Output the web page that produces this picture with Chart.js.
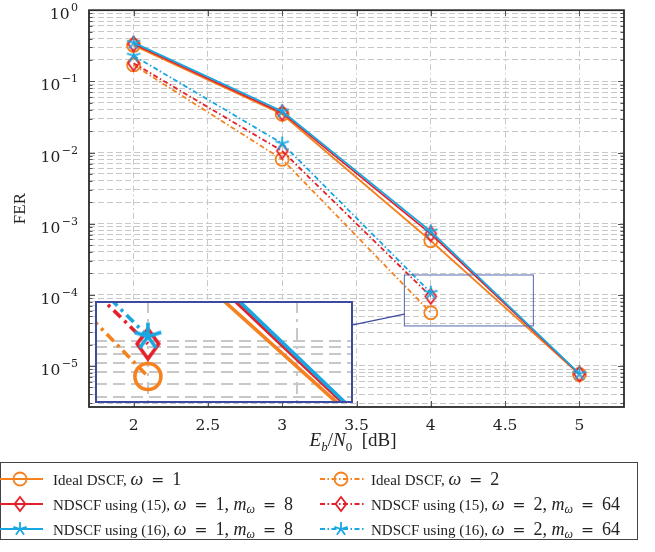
<!DOCTYPE html>
<html>
<head>
<meta charset="utf-8">
<script src="https://cdn.jsdelivr.net/npm/chart.js@4.4.1/dist/chart.umd.min.js"></script>
<style>
	body { margin: 0; background: #fff; }
	#wrap { position: relative; width: 655px; height: 552px; font-family: "Liberation Serif", serif; color: #222; }
	#main { position: absolute; left: 0; top: 0; }
	#inset { position: absolute; left: 95px; top: 301px; }
	#xtitle { position: absolute; top: 429px; left: 0; width: 706px; text-align: center; font-size: 19px; }
	#xtitle sub { font-size: 13px; }
	#legend { position: absolute; left: 0; top: 462px; width: 638px; height: 78px; border: 1px solid #444; box-sizing: border-box; }
	.item { position: absolute; font-size: 15px; white-space: nowrap; line-height: 18px; }
	.item .m { font-size: 18px; }
	.item sub { font-size: 12px; vertical-align: -3px; }
	.item .eq { font-family: "DejaVu Serif", serif; font-size: 15.5px; margin: 0 8px; }
	.sym { position: absolute; }
</style>
</head>
<body>
<div id="wrap">
	<canvas id="main" width="655" height="552"></canvas>
	<canvas id="inset" width="258" height="102"></canvas>
	<div id="xtitle"><i>E</i><sub><i>b</i></sub>/<i>N</i><sub>0</sub>&nbsp; [dB]</div>
	<div id="legend"></div>
</div>
<script>
// ================================ [ Data ] ================================
const ebn0W1 = [2, 3, 4, 5];
const ebn0W2 = [2, 3, 4];

// omega = 1
const idealW1 = [0.32, 0.0345, 5.75e-4, 7.6e-6];
const nd15W1 = [0.335, 0.036, 7.2e-4, 7.7e-6];
const nd16W1 = [0.35, 0.038, 7.8e-4, 7.8e-6];

// omega = 2
const idealW2 = [0.17, 8.0e-3, 5.6e-5];
const nd15W2 = [0.18, 0.0105, 9.5e-5];
const nd16W2 = [0.23, 0.0134, 1.07e-4];

const EQ = '<span class="eq">=</span>';
const OM = '<i>ω</i>';
const MW = '<i>m</i><sub><i>ω</i></sub>';
const seriesLabels = [
	`Ideal DSCF, <span class="m">${OM}${EQ}1</span>`,
	`NDSCF using (15), <span class="m">${OM}${EQ}1, ${MW}${EQ}8</span>`,
	`NDSCF using (16), <span class="m">${OM}${EQ}1, ${MW}${EQ}8</span>`,
	`Ideal DSCF, <span class="m">${OM}${EQ}2</span>`,
	`NDSCF using (15), <span class="m">${OM}${EQ}2, ${MW}${EQ}64</span>`,
	`NDSCF using (16), <span class="m">${OM}${EQ}2, ${MW}${EQ}64</span>`
];

const xTicks = [2, 2.5, 3, 3.5, 4, 4.5, 5];
const xRange = [1.7, 5.3];
const yRange = [2.65e-6, 1];

// zoomed region (spy box)
const insetX = [3.822, 4.69];
const insetY = [3.65e-5, 1.9e-4];

// ================================ [ Style ] ================================
const ORANGE = "#F5821F";
const RED = "#E5202A";
const BLUE = "#18A7E2";
const SPY = "#3A4BA0";
const GRID = "#c8c8c8";
const FONT = "Liberation Serif";
const TICK_FONT = "DejaVu Serif";

// log grid values 1..9 x 10^k
const logTicks = (min, max) => {
	const out = [];
	for (let e = -7; e <= 0; e++) {
		for (let m = 1; m <= 9; m++) {
			const v = m * Math.pow(10, e);
			if (v >= min * 0.999 && v <= max * 1.001) out.push({value: v});
		}
	}
	return out;
}

const decade = (v) => {
	const e = Math.log10(v);
	return Math.abs(e - Math.round(e)) < 1e-6 ? Math.round(e) : null;
}

// five arm star marker
const makeStar = (r, lw, color) => {
	const c = document.createElement("canvas");
	const s = Math.ceil(2 * r + lw + 2);
	c.width = s; c.height = s;
	const g = c.getContext("2d");
	g.strokeStyle = color; g.lineWidth = lw;
	g.beginPath();
	for (let i = 0; i < 5; i++) {
		const a = -Math.PI / 2 + i * 2 * Math.PI / 5;
		g.moveTo(s / 2, s / 2);
		g.lineTo(s / 2 + r * Math.cos(a), s / 2 + r * Math.sin(a));
	}
	g.stroke();
	return c;
}

// diamond marker (slightly narrow)
const makeDiamond = (r, lw, color) => {
	const c = document.createElement("canvas");
	const s = Math.ceil(2 * r + lw + 2);
	c.width = s; c.height = s;
	const g = c.getContext("2d");
	const m = s / 2, w = r * 0.72;
	g.strokeStyle = color; g.lineWidth = lw;
	g.beginPath();
	g.moveTo(m, m - r); g.lineTo(m + w, m); g.lineTo(m, m + r); g.lineTo(m - w, m); g.closePath();
	g.stroke();
	return c;
}

const buildDatasets = (k) => {
	const lw = 1.8 * k;
	const dashDot = [5 * k, 2.5 * k, 1.5 * k, 2.5 * k];
	const pair = (x, y) => x.map((v, i) => ({x: v, y: y[i]}));
	const base = (data, color, order, dash, marker) => Object.assign({
		data, borderColor: color, borderWidth: lw, borderDash: dash,
		backgroundColor: "transparent", pointBorderColor: color, pointBackgroundColor: "transparent",
		pointBorderWidth: lw, tension: 0, order
	}, marker);
	const circle = {pointStyle: "circle", pointRadius: 6.5 * k};
	const diamond = {pointStyle: makeDiamond(7.5 * k, lw, RED)};
	const star = {pointStyle: makeStar(7 * k, lw, BLUE)};
	return [
		base(pair(ebn0W1, idealW1), ORANGE, 3, [], circle),
		base(pair(ebn0W1, nd15W1), RED, 2, [], diamond),
		base(pair(ebn0W1, nd16W1), BLUE, 1, [], star),
		base(pair(ebn0W2, idealW2), ORANGE, 6, dashDot, circle),
		base(pair(ebn0W2, nd15W2), RED, 5, dashDot, diamond),
		base(pair(ebn0W2, nd16W2), BLUE, 4, dashDot, star)
	];
}

// ================================ [ Main chart ] ================================
const frame = {
	id: "frame",
	afterDraw: (chart) => {
		const {ctx, chartArea: a, scales: {x, y}} = chart;
		ctx.save();

		// inward tick marks
		ctx.strokeStyle = "#555"; ctx.lineWidth = 1;
		ctx.beginPath();
		y.ticks.forEach(t => {
			const py = Math.round(y.getPixelForValue(t.value)) + 0.5;
			const len = decade(t.value) !== null ? 6 : 3.5;
			ctx.moveTo(a.left, py); ctx.lineTo(a.left + len, py);
			ctx.moveTo(a.right, py); ctx.lineTo(a.right - len, py);
		});
		x.ticks.forEach(t => {
			const px = Math.round(x.getPixelForValue(t.value)) + 0.5;
			ctx.moveTo(px, a.bottom); ctx.lineTo(px, a.bottom - 6);
			ctx.moveTo(px, a.top); ctx.lineTo(px, a.top + 6);
		});
		ctx.stroke();

		ctx.strokeStyle = "#2b2b2b"; ctx.lineWidth = 1.8;
		ctx.strokeRect(a.left, a.top, a.right - a.left, a.bottom - a.top);

		// y tick labels 10^k
		ctx.fillStyle = "#222";
		ctx.textBaseline = "alphabetic";
		y.ticks.forEach(t => {
			const e = decade(t.value);
			if (e === null) return;
			const py = y.getPixelForValue(t.value);
			const exp = e === 0 ? "0" : "\u2212" + Math.abs(e);
			ctx.font = `11px "${TICK_FONT}"`;
			const ew = ctx.measureText(exp).width;
			const right = a.left - 11;
			ctx.textAlign = "right";
			ctx.fillText(exp, right, py + 1);
			ctx.font = `15.5px "${TICK_FONT}"`;
			ctx.fillText("10", right - ew - 1.5, py + 9);
		});

		// spy rectangle and connector
		const rx1 = x.getPixelForValue(insetX[0]), rx2 = x.getPixelForValue(insetX[1]);
		const ry1 = y.getPixelForValue(insetY[1]), ry2 = y.getPixelForValue(insetY[0]);
		ctx.strokeStyle = "#5566b0"; ctx.lineWidth = 1;
		ctx.strokeRect(rx1, ry1, rx2 - rx1, ry2 - ry1);

		const ins = document.getElementById("inset");
		const ix1 = ins.offsetLeft, iy1 = ins.offsetTop, ix2 = ix1 + ins.width, iy2 = iy1 + ins.height;
		const c1 = [(rx1 + rx2) / 2, (ry1 + ry2) / 2], c2 = [(ix1 + ix2) / 2, (iy1 + iy2) / 2];
		const at = (px) => c1[1] + (px - c1[0]) * (c2[1] - c1[1]) / (c2[0] - c1[0]);
		ctx.strokeStyle = SPY; ctx.lineWidth = 1.2;
		ctx.beginPath();
		ctx.moveTo(rx1, at(rx1));
		ctx.lineTo(ix2, at(ix2));
		ctx.stroke();
		ctx.restore();
	}
};

new Chart(document.getElementById("main"), {
	type: "line",
	data: {datasets: buildDatasets(1)},
	plugins: [frame],
	options: {
		responsive: false,
		animation: false,
		layout: {autoPadding: false, padding: {top: 10, right: 31, bottom: 115, left: 0}},
		plugins: {legend: {display: false}, tooltip: {enabled: false}},
		scales: {
			x: {
				type: "linear", min: xRange[0], max: xRange[1],
				afterBuildTicks: (axis) => { axis.ticks = xTicks.map(v => ({value: v})); },
				afterFit: (s) => { s.height = 30; },
				grid: {color: GRID, drawTicks: false},
				border: {display: false, dash: [6, 3, 1.5, 3]},
				ticks: {padding: 10, autoSkip: false, maxRotation: 0, color: "#222",
					font: {family: TICK_FONT, size: 15.5}, callback: (v) => String(v)}
			},
			y: {
				type: "logarithmic", min: yRange[0], max: yRange[1],
				afterBuildTicks: (axis) => { axis.ticks = logTicks(yRange[0], yRange[1]); },
				afterFit: (s) => { s.width = 89; },
				grid: {color: GRID, drawTicks: false},
				border: {display: false, dash: [6, 3]},
				title: {display: true, text: "FER", color: "#222", font: {family: FONT, size: 17}, padding: {top: 10, bottom: 0}},
				ticks: {autoSkip: false, callback: () => ""}
			}
		}
	}
});

// ================================ [ Inset chart ] ================================
const insetFrame = {
	id: "insetFrame",
	beforeDraw: (chart) => {
		const {ctx} = chart;
		ctx.save();
		ctx.fillStyle = "#fff";
		ctx.fillRect(0, 0, chart.width, chart.height);
		ctx.restore();
	},
	afterDraw: (chart) => {
		const {ctx} = chart;
		ctx.save();
		ctx.strokeStyle = SPY; ctx.lineWidth = 2;
		ctx.strokeRect(1, 1, chart.width - 2, chart.height - 2);
		ctx.restore();
	}
};

new Chart(document.getElementById("inset"), {
	type: "line",
	data: {datasets: buildDatasets(2)},
	plugins: [insetFrame],
	options: {
		responsive: false,
		animation: false,
		layout: {autoPadding: false, padding: 0},
		plugins: {legend: {display: false}, tooltip: {enabled: false}},
		scales: {
			x: {
				type: "linear", min: insetX[0], max: insetX[1],
				afterBuildTicks: (axis) => { axis.ticks = xTicks.map(v => ({value: v})); },
				afterFit: (s) => { s.height = 0; },
				grid: {color: GRID, lineWidth: 2, drawTicks: false},
				border: {display: false, dash: [12, 6, 3, 6]},
				ticks: {display: false}
			},
			y: {
				type: "logarithmic", min: insetY[0], max: insetY[1],
				afterBuildTicks: (axis) => { axis.ticks = logTicks(insetY[0], insetY[1]); },
				afterFit: (s) => { s.width = 0; },
				grid: {color: GRID, lineWidth: 2, drawTicks: false},
				border: {display: false, dash: [12, 6]},
				ticks: {display: false}
			}
		}
	}
});

// ================================ [ Legend ] ================================
const legendSymbol = (color, dashed, marker) => {
	const dash = dashed ? ' stroke-dasharray="5 2.5 1.5 2.5"' : "";
	let m = "";
	if (marker === "circle") m = `<circle cx="21" cy="9" r="6.5" fill="none" stroke="${color}" stroke-width="1.8"/>`;
	if (marker === "diamond") m = `<polygon points="21,2 26.4,9 21,16 15.6,9" fill="none" stroke="${color}" stroke-width="1.8"/>`;
	if (marker === "star") {
		let p = "";
		for (let i = 0; i < 5; i++) {
			const a = -Math.PI / 2 + i * 2 * Math.PI / 5;
			p += `M21 9 L${(21 + 7 * Math.cos(a)).toFixed(2)} ${(9 + 7 * Math.sin(a)).toFixed(2)} `;
		}
		m = `<path d="${p}" stroke="${color}" stroke-width="1.8" fill="none"/>`;
	}
	return `<svg class="sym" width="44" height="18"><line x1="0" y1="9" x2="44" y2="9" stroke="${color}" stroke-width="1.8"${dash}/>${m}</svg>`;
}

const legendColors = [ORANGE, RED, BLUE, ORANGE, RED, BLUE];
const legendMarkers = ["circle", "diamond", "star", "circle", "diamond", "star"];
let legendHtml = "";
seriesLabels.forEach((label, i) => {
	const col = Math.floor(i / 3), row = i % 3;
	const sx = col === 0 ? -2 : 319;
	const tx = col === 0 ? 52 : 370;
	const ty = 7 + row * 25;
	legendHtml += `<div class="item" style="left:${sx}px;top:${ty}px;width:44px;height:18px">${legendSymbol(legendColors[i], col === 1, legendMarkers[i])}</div>`;
	legendHtml += `<div class="item" style="left:${tx}px;top:${ty}px">${label}</div>`;
});
document.getElementById("legend").innerHTML = legendHtml;
</script>
</body>
</html>
